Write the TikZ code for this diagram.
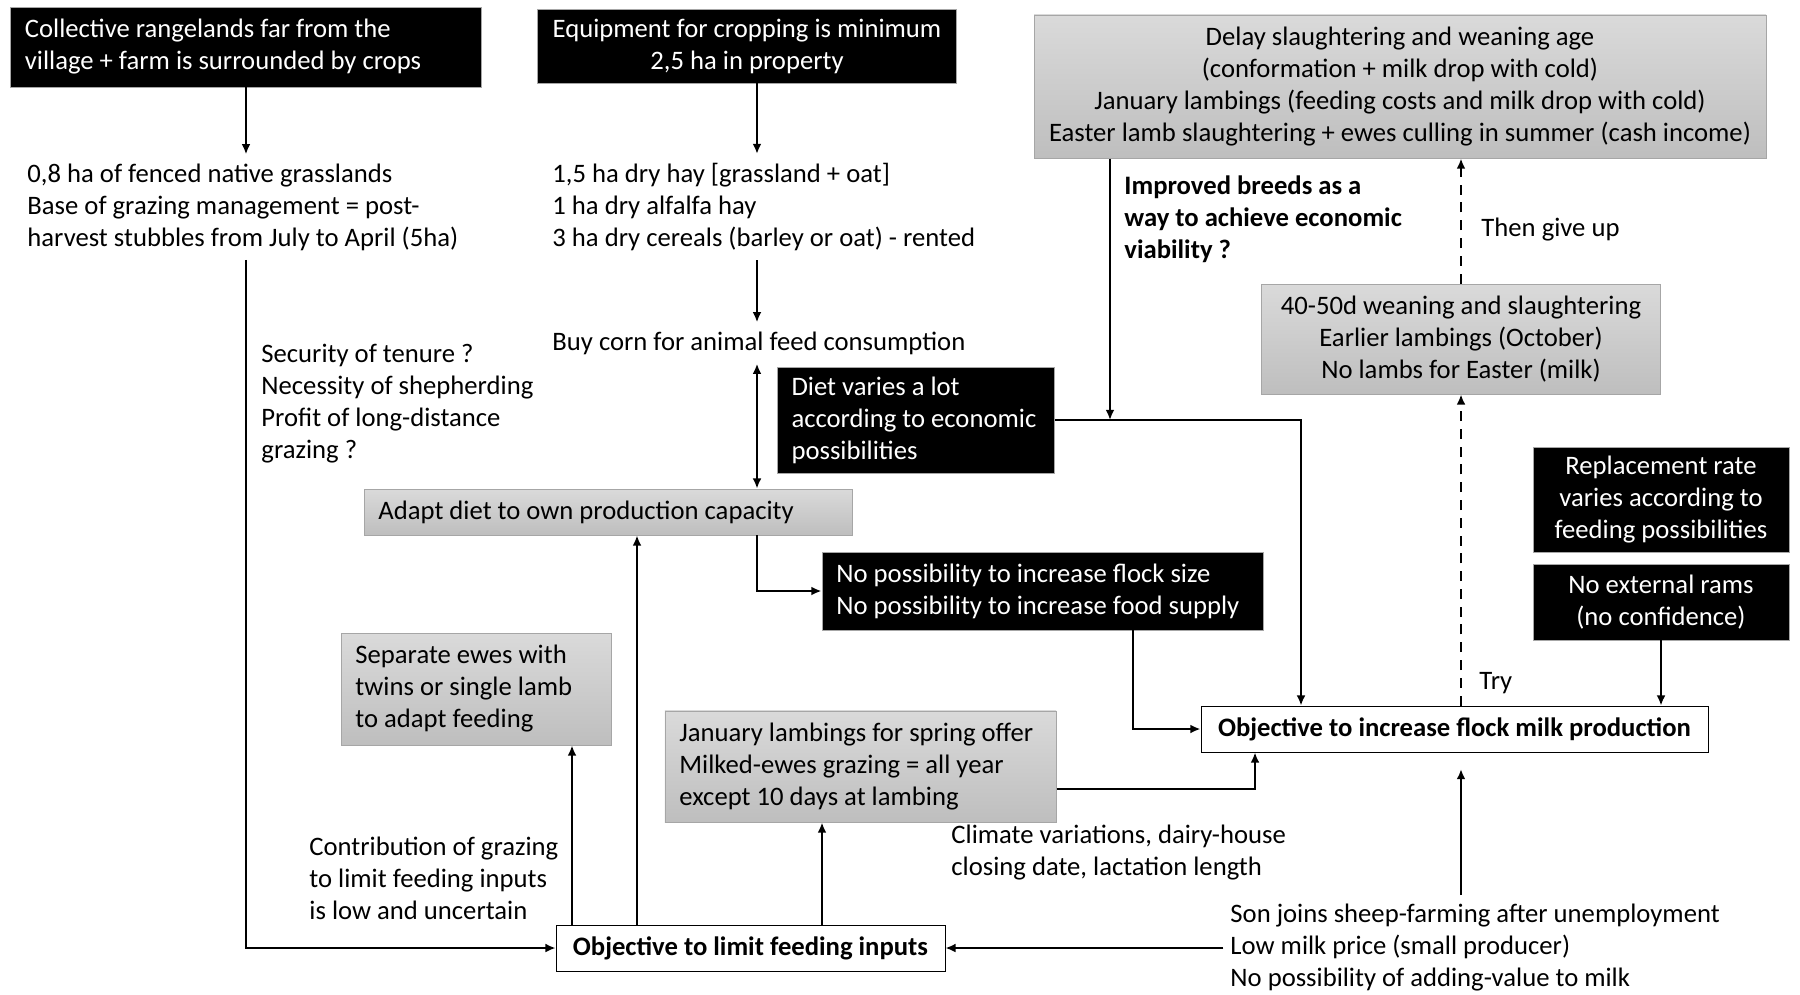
\documentclass[tikz,border=0pt]{standalone}
\usepackage{fontspec}
\setmainfont{Carlito}
\usepackage{tikz}
\usetikzlibrary{arrows.meta,positioning,calc}
\definecolor{boxline}{HTML}{A6A6A6}
\definecolor{greytop}{HTML}{DADADA}
\definecolor{greybot}{HTML}{BEBEBE}
\tikzset{
  >={Latex[length=1.6mm,width=1.4mm]},
  flow/.style={->,line width=0.9pt},
  dashflow/.style={->,line width=0.9pt,dash pattern=on 4.5pt off 3.5pt},
  base/.style={inner xsep=6.5pt,inner ysep=0pt,font=\fontsize{12}{14.4}\selectfont},
  darkbox/.style={base,draw=boxline,fill=black,text=white,align=flush left},
  greybox/.style={base,draw=boxline,top color=greytop,bottom color=greybot,align=flush left},
  goalbox/.style={base,draw=black,fill=white,align=center,font=\fontsize{12}{14.4}\selectfont\bfseries},
  note/.style={inner xsep=0pt,inner ysep=4pt,align=left,anchor=west,font=\fontsize{12}{14.4}\selectfont}
}

\begin{document}
\begin{tikzpicture}[x=0.45pt,y=-0.45pt]
  \useasboundingbox (0,0) rectangle (1800,994);
  % columns used by the connectors
  \coordinate (colhay) at (757,0);
  \coordinate (colbreed) at (1110,0);
  \coordinate (coldiet) at (1301,0);
  \coordinate (colnopos) at (1133,0);
  \coordinate (coljan) at (1255,0);
  \coordinate (coltwins) at (572,0);
  \coordinate (coladapt) at (637,0);
  \coordinate (coljanup) at (822,0);

  % left and middle part
  \node[darkbox,text width=199pt,minimum height=36pt] (range) at (246,47) {Collective rangelands far from the\\village + farm is surrounded by crops};
  \node[darkbox,align=center,minimum width=188.6pt,minimum height=33.3pt] (equip) at (747,46) {Equipment for cropping is minimum\\2,5 ha in property};
  \node[note] (grass) at (27,207) {0,8 ha of fenced native grasslands\\Base of grazing management = post-\\harvest stubbles from July to April (5ha)};
  \node[note] (hay) at (552,207) {1,5 ha dry hay [grassland + oat]\\1 ha dry alfalfa hay\\3 ha dry cereals (barley or oat) - rented};
  \node[note] (corn) at (552,343) {Buy corn for animal feed consumption};
  \node[note] (tenure) at (261,404) {Security of tenure ?\\Necessity of shepherding\\Profit of long-distance\\grazing ?};
  \node[darkbox,text width=112pt,minimum height=47.7pt] (diet) at (916,420) {Diet varies a lot\\according to economic\\possibilities};
  \node[greybox,text width=206.6pt,minimum height=20.7pt] (adapt) at (608,512) {Adapt diet to own production capacity};
  \node[darkbox,text width=185.5pt,minimum height=35.1pt] (nopos) at (1042.5,591) {No possibility to increase flock size\\No possibility to increase food supply};
  \node[greybox,text width=108.5pt,minimum height=50.4pt] (twins) at (476,689) {Separate ewes with\\twins or single lamb\\to adapt feeding};
  \node[greybox,text width=163pt,minimum height=50pt] (janlamb) at (860.5,766.5) {January lambings for spring offer\\Milked-ewes grazing = all year\\except 10 days at lambing};
  \node[note] (climate) at (951,853) {Climate variations, dairy-house\\closing date, lactation length};
  \node[note] (contrib) at (309,878) {Contribution of grazing\\to limit feeding inputs\\is low and uncertain};
  \node[goalbox,minimum width=175pt,minimum height=20.7pt] (limit) at (750.5,948) {Objective to limit feeding inputs};
  \node[note] (son) at (1230,948) {Son joins sheep-farming after unemployment\\Low milk price (small producer)\\No possibility of adding-value to milk};

  % right part
  \node[greybox,align=center,minimum width=329.4pt,minimum height=64.4pt] (delay) at (1400,86.5) {Delay slaughtering and weaning age\\(conformation + milk drop with cold)\\January lambings (feeding costs and milk drop with cold)\\Easter lamb slaughtering + ewes culling in summer (cash income)};
  \node[note,font=\fontsize{12}{14.4}\selectfont\bfseries] (breeds) at (1124,219) {Improved breeds as a\\way to achieve economic\\viability ?};
  \node[note] (giveup) at (1481,230) {Then give up};
  \node[greybox,align=center,minimum width=179.6pt,minimum height=49.5pt] (wean) at (1461,339) {40-50d weaning and slaughtering\\Earlier lambings (October)\\No lambs for Easter (milk)};
  \node[darkbox,align=center,minimum width=115.2pt,minimum height=47.25pt] (replace) at (1661,499.5) {Replacement rate\\varies according to\\feeding possibilities};
  \node[darkbox,align=center,minimum width=115.2pt,minimum height=34.2pt] (rams) at (1661,602) {No external rams\\(no confidence)};
  \node[note] (try) at (1479,683) {Try};
  \node[goalbox,minimum width=228.2pt,minimum height=20.7pt] (milk) at (1454.5,729) {Objective to increase flock milk production};

  % connectors
  \draw[flow] (range.south) -- (range.south |- grass.north);
  \draw[flow] (range.south |- grass.south) |- (limit.west);
  \draw[flow] (equip.south -| colhay) -- (hay.north -| colhay);
  \draw[flow] (hay.south -| colhay) -- (corn.north -| colhay);
  \draw[flow,<->] (corn.south -| colhay) -- (adapt.north -| colhay);
  \draw[flow] (adapt.south -| colhay) |- (nopos.west);
  \draw[flow] (delay.south -| colbreed) -- (diet.east -| colbreed);
  \draw[flow] (diet.east) -| (milk.north -| coldiet);
  \draw[flow] (nopos.south -| colnopos) |- (milk.west);
  \draw[flow] ([yshift=-10pt]janlamb.east) -| (milk.south -| coljan);
  \draw[dashflow] (milk.north -| wean) -- (wean.south);
  \draw[dashflow] (wean.north) -- (delay.south -| wean);
  \draw[flow] (rams.south) -- (rams.south |- milk.north);
  \draw[flow,shorten <=3pt] (son.west) -- (limit.east);
  \draw[flow,shorten >=7.5pt] (son.north -| wean) -- (milk.south -| wean);
  \draw[flow] (limit.north -| coltwins) -- (twins.south -| coltwins);
  \draw[flow] (limit.north -| coladapt) -- (adapt.south -| coladapt);
  \draw[flow] (limit.north -| coljanup) -- (janlamb.south -| coljanup);
\end{tikzpicture}
\end{document}
